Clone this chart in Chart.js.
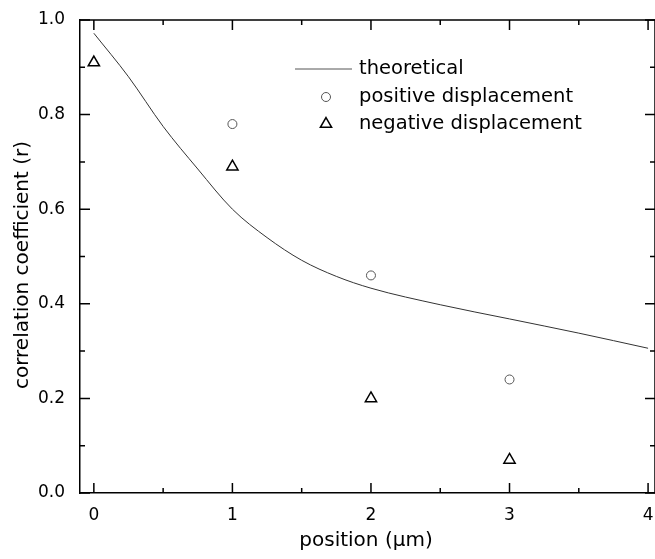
<!DOCTYPE html>
<html>
<head>
<meta charset="utf-8">
<script src="https://cdn.jsdelivr.net/npm/chart.js@4/dist/chart.umd.min.js"></script>
<style>
  body { margin: 0; background: #fff; overflow: hidden; }
  #wrap { width: 655px; height: 559px; }
  canvas { display: block; }
</style>
</head>
<body>
<div id="wrap"><canvas id="myChart" width="655" height="559"></canvas></div>
<script>
// theoretical curve
const theoryX = [0, 0.25, 0.5, 0.75, 1, 1.25, 1.5, 1.75, 2, 2.5, 3, 3.5, 4];
const theoryY = [0.972, 0.88, 0.775, 0.685, 0.6, 0.54, 0.492, 0.458, 0.433, 0.398, 0.368, 0.338, 0.306];

// measured points
const positiveX = [1, 2, 3];
const positiveY = [0.78, 0.46, 0.24];
const negativeX = [0, 1, 2, 3];
const negativeY = [0.91, 0.69, 0.2, 0.07];

const xTicks = [0, 1, 2, 3, 4];
const xMinorTicks = [0.5, 1.5, 2.5, 3.5];
const yTicks = [0, 0.2, 0.4, 0.6, 0.8, 1.0];
const yMinorTicks = [0.1, 0.3, 0.5, 0.7, 0.9];

const legendLabels = ["theoretical", "positive displacement", "negative displacement"];
const xTitle = "position (\u03bcm)";
const yTitle = "correlation coefficient (r)";

const FONT = "'DejaVu Sans', sans-serif";

const toPoints = (xs, ys) => xs.map((x, i) => ({ x: x, y: ys[i] }));

// frame on top/right, inward tick marks on all four sides, titles and legend
const framePlugin = {
  id: "frame",
  afterDraw(chart) {
    const ctx = chart.ctx;
    const { left, right, top, bottom } = chart.chartArea;
    const xs = chart.scales.x;
    const ys = chart.scales.y;
    ctx.save();
    ctx.strokeStyle = "#000";
    ctx.lineWidth = 1.5;
    ctx.beginPath();
    ctx.moveTo(left, top);
    ctx.lineTo(right, top);
    ctx.lineTo(right, bottom);
    ctx.stroke();

    const tick = (vals, len) => {
      vals.forEach((v) => {
        const px = xs.getPixelForValue(v);
        ctx.moveTo(px, bottom); ctx.lineTo(px, bottom - len);
        ctx.moveTo(px, top); ctx.lineTo(px, top + len);
      });
    };
    const ytick = (vals, len) => {
      vals.forEach((v) => {
        const py = ys.getPixelForValue(v);
        ctx.moveTo(left, py); ctx.lineTo(left + len, py);
        ctx.moveTo(right, py); ctx.lineTo(right - len, py);
      });
    };
    ctx.beginPath();
    tick(xTicks, 10);
    tick(xMinorTicks, 5);
    ytick(yTicks, 10);
    ytick(yMinorTicks, 5);
    ctx.stroke();

    // axis titles
    ctx.fillStyle = "#000";
    ctx.font = "20px " + FONT;
    ctx.textAlign = "center";
    ctx.textBaseline = "middle";
    ctx.fillText(xTitle, 366, 541);
    ctx.save();
    ctx.translate(23, 265);
    ctx.rotate(-Math.PI / 2);
    ctx.fillText(yTitle, 0, 0);
    ctx.restore();

    // legend
    const lx = 359, rows = [69, 97, 124];
    ctx.strokeStyle = "#555";
    ctx.lineWidth = 1;
    ctx.beginPath();
    ctx.moveTo(295, rows[0]);
    ctx.lineTo(352, rows[0]);
    ctx.stroke();
    ctx.fillStyle = "rgba(0,0,0,0)";
    Chart.helpers.drawPoint(ctx, { pointStyle: "circle", radius: 4.5, borderWidth: 1 }, 326, rows[1]);
    ctx.strokeStyle = "#000";
    ctx.lineWidth = 1.5;
    Chart.helpers.drawPoint(ctx, { pointStyle: "triangle", radius: 6.5, borderWidth: 1.5 }, 326, rows[2]);
    ctx.fillStyle = "#000";
    ctx.font = "19.5px " + FONT;
    ctx.textAlign = "left";
    legendLabels.forEach((t, i) => ctx.fillText(t, lx, rows[i]));
    ctx.restore();
  }
};

new Chart(document.getElementById("myChart"), {
  type: "scatter",
  data: {
    datasets: [
      {
        label: legendLabels[0],
        data: toPoints(theoryX, theoryY),
        showLine: true,
        borderColor: "#333",
        borderWidth: 1,
        pointRadius: 0,
        cubicInterpolationMode: "monotone",
        fill: false,
      },
      {
        label: legendLabels[1],
        data: toPoints(positiveX, positiveY),
        pointStyle: "circle",
        pointRadius: 4.5,
        borderColor: "#555",
        backgroundColor: "rgba(0,0,0,0)",
        borderWidth: 1,
      },
      {
        label: legendLabels[2],
        data: toPoints(negativeX, negativeY),
        pointStyle: "triangle",
        pointRadius: 6.5,
        borderColor: "#000",
        backgroundColor: "rgba(0,0,0,0)",
        borderWidth: 1.5,
      },
    ],
  },
  options: {
    responsive: false,
    animation: false,
    layout: { autoPadding: false, padding: { top: 20, right: 0, left: 0, bottom: 0 } },
    plugins: { legend: { display: false }, tooltip: { enabled: false } },
    scales: {
      x: {
        type: "linear",
        min: -0.1,
        max: 4.05,
        grid: { display: false },
        border: { display: true, color: "#000", width: 1.5 },
        afterBuildTicks: (scale) => { scale.ticks = xTicks.map((v) => ({ value: v })); },
        afterFit: (scale) => {
          scale.height = 66;
          scale.paddingLeft = 0;
          scale.paddingRight = 0;
        },
        ticks: {
          color: "#000",
          padding: 4,
          font: { family: FONT, size: 17 },
          callback: (v) => String(v),
        },
      },
      y: {
        min: 0,
        max: 1,
        grid: { display: false },
        border: { display: true, color: "#000", width: 1.5 },
        afterBuildTicks: (scale) => { scale.ticks = yTicks.map((v) => ({ value: v })); },
        afterFit: (scale) => {
          scale.width = 80;
          scale.paddingTop = 0;
          scale.paddingBottom = 0;
        },
        ticks: {
          color: "#000",
          padding: 7,
          font: { family: FONT, size: 17 },
          callback: (v) => Number(v).toFixed(1),
        },
      },
    },
  },
  plugins: [framePlugin],
});
</script>
</body>
</html>
